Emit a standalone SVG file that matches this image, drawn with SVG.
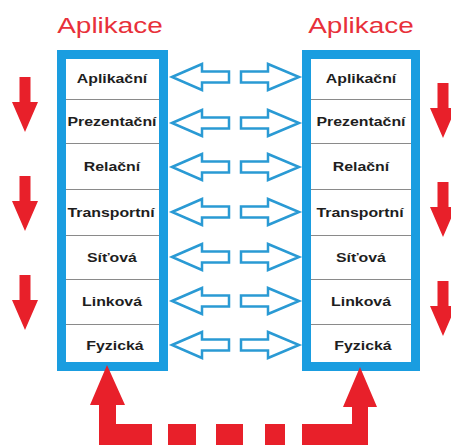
<svg xmlns="http://www.w3.org/2000/svg" xmlns:xlink="http://www.w3.org/1999/xlink" width="451" height="445" viewBox="0 0 451 445">
<style>
.frame{fill:#fff;stroke:#1a9de0;stroke-width:9}
.sep{stroke:#8a8a8a;stroke-width:1}
.lbl{font-family:"Liberation Sans",Arial,sans-serif;font-weight:bold;font-size:12.5px;fill:#1e1e1e;text-anchor:middle}
.title{font-family:"Liberation Sans",Arial,sans-serif;font-size:22px;fill:#e8303a;text-anchor:middle}
.blue{fill:#fff;stroke:#2a9ad4;stroke-width:2.5;stroke-linejoin:miter}
.red{fill:#e8202a}
</style>
<defs>
<path id="la" d="M0,0 L30,-13 L30,-5.5 L57,-5.5 L57,5.5 L30,5.5 L30,13 Z"/>
<path id="ra" d="M0,-5.5 L27,-5.5 L27,-13 L58,0 L27,13 L27,5.5 L0,5.5 Z"/>
<path id="rd" d="M-5.5,0 L5.5,0 L5.5,25 L13,25 L0,55 L-13,25 L-5.5,25 Z"/>
</defs>
<rect width="451" height="445" fill="#fff"/>
<g id="title-left"><text class="title" transform="translate(110,33) scale(1.27,1)">Aplikace</text></g>
<g id="title-right"><text class="title" transform="translate(361,33) scale(1.27,1)">Aplikace</text></g>
<g id="stack-left">
<rect class="frame" x="61.5" y="54.5" width="102" height="312"/>
<line class="sep" x1="66" y1="99.5" x2="159" y2="99.5"/>
<line class="sep" x1="66" y1="143.5" x2="159" y2="143.5"/>
<line class="sep" x1="66" y1="189.5" x2="159" y2="189.5"/>
<line class="sep" x1="66" y1="235.5" x2="159" y2="235.5"/>
<line class="sep" x1="66" y1="279.5" x2="159" y2="279.5"/>
<line class="sep" x1="66" y1="324.5" x2="159" y2="324.5"/>
</g>
<g id="L-aplikacni"><text class="lbl" transform="translate(112,83) scale(1.27,1)">Aplikační</text></g>
<g id="L-prezentacni"><text class="lbl" transform="translate(112,126) scale(1.27,1)">Prezentační</text></g>
<g id="L-relacni"><text class="lbl" transform="translate(112,171) scale(1.27,1)">Relační</text></g>
<g id="L-transportni"><text class="lbl" transform="translate(111,217) scale(1.27,1)">Transportní</text></g>
<g id="L-sitova"><text class="lbl" transform="translate(112,262) scale(1.27,1)">Síťová</text></g>
<g id="L-linkova"><text class="lbl" transform="translate(112,306) scale(1.27,1)">Linková</text></g>
<g id="L-fyzicka"><text class="lbl" transform="translate(115,350) scale(1.27,1)">Fyzická</text></g>
<g id="stack-right">
<rect class="frame" x="306.5" y="54.5" width="109" height="312"/>
<line class="sep" x1="311" y1="99.5" x2="411" y2="99.5"/>
<line class="sep" x1="311" y1="143.5" x2="411" y2="143.5"/>
<line class="sep" x1="311" y1="189.5" x2="411" y2="189.5"/>
<line class="sep" x1="311" y1="235.5" x2="411" y2="235.5"/>
<line class="sep" x1="311" y1="279.5" x2="411" y2="279.5"/>
<line class="sep" x1="311" y1="324.5" x2="411" y2="324.5"/>
</g>
<g id="R-aplikacni"><text class="lbl" transform="translate(361,83) scale(1.27,1)">Aplikační</text></g>
<g id="R-prezentacni"><text class="lbl" transform="translate(361,126) scale(1.27,1)">Prezentační</text></g>
<g id="R-relacni"><text class="lbl" transform="translate(361,171) scale(1.27,1)">Relační</text></g>
<g id="R-transportni"><text class="lbl" transform="translate(360,217) scale(1.27,1)">Transportní</text></g>
<g id="R-sitova"><text class="lbl" transform="translate(361,262) scale(1.27,1)">Síťová</text></g>
<g id="R-linkova"><text class="lbl" transform="translate(361,306) scale(1.27,1)">Linková</text></g>
<g id="R-fyzicka"><text class="lbl" transform="translate(363,350) scale(1.27,1)">Fyzická</text></g>
<g id="connectors">
<g class="blue">
<use xlink:href="#la" href="#la" x="172" y="77"/>
<use xlink:href="#la" href="#la" x="172" y="123"/>
<use xlink:href="#la" href="#la" x="172" y="167"/>
<use xlink:href="#la" href="#la" x="172" y="212"/>
<use xlink:href="#la" href="#la" x="172" y="257"/>
<use xlink:href="#la" href="#la" x="172" y="301"/>
<use xlink:href="#la" href="#la" x="172" y="345"/>
<use xlink:href="#ra" href="#ra" x="241" y="77"/>
<use xlink:href="#ra" href="#ra" x="241" y="123"/>
<use xlink:href="#ra" href="#ra" x="241" y="167"/>
<use xlink:href="#ra" href="#ra" x="241" y="212"/>
<use xlink:href="#ra" href="#ra" x="241" y="257"/>
<use xlink:href="#ra" href="#ra" x="241" y="301"/>
<use xlink:href="#ra" href="#ra" x="241" y="345"/>
</g>
<g class="red">
<use xlink:href="#rd" href="#rd" x="25" y="77"/>
<use xlink:href="#rd" href="#rd" x="25" y="176"/>
<use xlink:href="#rd" href="#rd" x="25" y="275"/>
<use xlink:href="#rd" href="#rd" x="443" y="83"/>
<use xlink:href="#rd" href="#rd" x="443" y="182"/>
<use xlink:href="#rd" href="#rd" x="443" y="281"/>
<path d="M107,365 L125,405 L116,405 L116,424 L152,424 L152,445 L99,445 L99,405 L90,405 Z"/>
<rect x="168" y="424" width="28" height="21"/>
<rect x="216" y="424" width="27" height="21"/>
<rect x="265" y="424" width="20" height="21"/>
<path d="M360,367 L377,407 L368,407 L368,445 L302,445 L302,424 L352,424 L352,407 L343,407 Z"/>
</g>
</g>
</svg>
